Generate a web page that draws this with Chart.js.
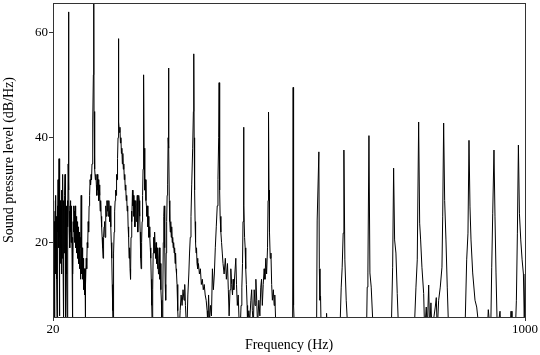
<!DOCTYPE html>
<html>
<head>
<meta charset="utf-8">
<script src="https://cdn.jsdelivr.net/npm/chart.js@4.4.1/dist/chart.umd.min.js"></script>
<style>
  html, body { margin: 0; padding: 0; background: #fff; }
  canvas { display: block; }
</style>
</head>
<body>
<canvas id="c" width="540" height="355"></canvas>
<script>
// Frequency axis values (Hz) of the measured spectrum
const freqHz = [
  20,20.5,21,21.5,22,22.5,23,23.5,24,24.5,
  25,25.5,26,26.5,27,27.5,28,28.5,29,29.5,
  30,30.5,31,31.5,32,32.5,33,33.5,34,34.5,
  35,35.5,36,36.5,37,37.5,38,38.5,39,39.5,
  40,40.5,41,41.5,42,42.5,43,43.5,44,44.5,
  45,45.5,46,46.5,47,47.5,48,48.5,49,49.5,
  50,50.5,51,51.5,52,52.6,53.2,53.8,54.5,55,
  55.5,56,56.5,57,57.5,58,58.5,59,59.5,60,
  60.5,61,61.5,62,62.5,63,63.5,64,64.5,65,
  65.5,66,66.5,67,67.5,68,68.5,69,69.5,70,
  70.5,71,71.5,72,72.5,73,73.5,74,74.5,75,
  75.5,76,76.5,77,77.5,78,78.5,79,79.5,80,
  80.5,81,81.5,82,82.5,83,83.5,84,84.5,85,
  85.5,86,86.5,87,87.5,88,89,90,91,92,
  93,94,95,96,97,98,99,100,101,102,
  103,103.8,104.6,105.2,106,107,108,109,110,111,
  112,113,114,115,116,117,118,119,120,121,
  122,123,124,125,126,127,128,129,130,131,
  132,133,134,135,136,137,138,139,140,141,
  142,143,144,144.7,145.5,146,147,148,149,150,
  151,152,153,154,155,155.4,155.9,156.5,157,158,
  159,160,161,162,163,164,165,166,167,168,
  169,170,171,172,173,174,175,176,177,178,
  179,180,181,182,183,184,185,186,187,188,
  189,190,191,192,193,194,195,196,197,198,
  199,200,201,202,203,204,205,206,207,207.8,
  208.4,209.1,210,211,212,213,214,215,216,217,
  218,219,220,221,222,223,224,225,226,227,
  228,229,230,231,232,233,234,235,236,237,
  238,239,240,241,242,243,244,245,246,247,
  248,249,250,251,252,253,254,255,256,257,
  258,259,259.8,260.6,261.5,262.5,263.5,264.5,265.5,266.5,
  267.5,268.5,269.5,270.5,271.5,272.5,273.5,274.5,275.5,276.5,
  277.5,278.5,279.5,280.5,282,284,286,288,290,292,
  293.5,295,296.5,298,300,302,303.5,305,306.5,308,
  310,311.5,312.3,313.1,314,315,316,317,318,319,
  320,321,322,324,326,328,330,332,334,336,
  338,340,341.5,343,345,347,349,351,353,355,
  357,359,361,362.5,364,364.9,366,367,368.5,370,
  371.5,373,375.3,377.8,380,382.3,384,385.7,387.5,389.2,
  391,392.7,394,395.4,397.5,399.6,401,402.7,404.5,406.4,
  408.9,410.5,412.1,413.5,414.5,415.6,416.5,417.8,419,420.2,
  421.5,423,424,426.6,428.5,430.8,432.5,433.9,436,437.7,
  439.5,441.2,443,444.7,447.4,449.5,451.4,453,454.6,456.5,
  458.4,460,461.8,463.5,465.4,466.5,467.5,468.5,469.5,471,
  472.5,474,475.5,477.5,479.2,480.5,482.7,485,500,517.5,
  518.6,519.5,521,523,545,566,567.3,568.5,572,573,
  574.3,575.5,576.8,587,588,589,605,615.7,618.4,620.4,
  622.5,624,626,628.8,632.3,650,671,672.4,673.8,676,
  678,680.7,684.9,700,722.3,725.2,727.2,729.3,732,734.7,
  737.6,755,770,773.6,776.3,779.2,781.3,783.3,786,789.6,
  791.6,795,797,800,802,804.7,806.8,813.7,815.8,817.8,
  820.7,824.1,827.6,829.1,831.1,833.2,835.9,838.6,841.5,860,
  875.4,878.9,881.6,883.7,885.8,887.9,891.4,896.2,899.7,905.1,
  921.7,923.8,926,928.8,930.9,933,935.6,937.7,939.8,942.5,
  948.1,950.2,969,971,973,980,982.1,984.2,986.3,988.4,
  991.2,994,996.7,998.5,1000
];

// Sound pressure level (dB/Hz) at each frequency above
const levelDb = [
  22,27,15,28,18,24,12,5,19,26,
  14,23,29,17,25,20,13,4,18,27,
  22,32,19,26,21,36,24,18,6,21,
  28,16,25,19,27,14,23,30,17,26,
  21,33,15,4,22,28,18,25,20,29,
  33,19,12,5,21,27,17,24,14,4,
  20,28,23,35,54,64,30,22,26,19,
  27,22,28,24,20,27,23,25,18,21,
  12,4,14,24,27,22,27,25,20,26,
  23,27,21,26,19,24,22,25,18,23,
  20,24,17,22,19,23,16,22,18,21,
  15,20,17,21,13,19,29,16,20,14,
  19,13,18,15,17,11,16,13,15,10,
  14,12,15,9,3,12,17,15,20,19,
  24,22,27,29,32,31,33,32,35,38,
  43,52,72,45,38,34,32,33,31,29,
  33,30,32,28,31,29,26,28,25,23,
  21,19,17,21,23,24,21,25,27,25,
  28,26,28,25,28,26,24,27,23,20,
  17,12,7,3,10,18,22,26,28,30,
  29,33,32,36,40,48,58.9,47,43,41,
  42,39,40,37,38,35,37,34,35,32,
  33,30,31,28,29,26,27,23,21,17,
  19,15,13,21,26,24,30,27,29,25,
  28,23,27,28,24,27,29,22,26,29,
  28,25,22,17,15,20,24,29,34,42,
  52,38,31,30,32,28,27,25,27,23,
  25,21,23,21,19,17,13,8,4,11,
  18,21,18,22,19,17,20,16,19,15,
  18,14,17,19,13,16,11,9,5,3,
  10,20,25,27,19,12,9,18,24,29,
  31,40,53.3,38,28,24,22,24,21,23,
  20,21,19,20,18,19,16,18,15,14,
  12,10,7,4,3,7,10,8,11,9,
  12,8,5,3,10,14,18,21,25,31,
  38,45,56,40,30,24,20,18,19,16,
  17,15,16,14,15,12,13,11,12,10,
  9,7,4,10,5,8,6,15,11,14,
  19,23,27,32,40,50.5,30,25,22,20,
  18,16,14,17,13,16,11,6,11,15,
  12,10,13,11,14,17,12,8,10,5,
  4,8,11.5,16,24,42,27,21,19,15,
  12,8,4,7,5,9,11,7,4,11,
  8,13,9,4,9,6,11.5,13,8,12,
  15,13,17,14,19,28,44.9,30,22,17,
  18,12,9,11,8,10,4,3,3,3,
  49.6,8,4,3,3,3,4,24.3,37.3,15,
  9,9.8,3,3,6.5,3,3,3,11.5,15.3,
  21.8,37.65,16.7,9,3,3,3,11.5,14.2,40.4,
  14.2,11.5,3,3,3,15.3,34.2,20.5,18,10.3,
  3,3,3,11.5,16.7,43,23.7,20.5,15.3,10.3,
  3,7.7,3,11.9,3,8.5,3,7.7,9.5,3,
  9,11.5,15.3,24.9,42.8,28,20.5,11.5,3,3,
  3,16.7,21.8,39.5,26.8,20.5,14.2,9,7.7,3,
  3,7.2,5,3,15.3,25.6,37.65,24.9,14.2,3,
  6.9,3,3,6.9,3,3,9,21.8,38.6,25.6,
  20.5,16.7,14,5,14
];

// Tick labels
const xTickValues = [20, 1000];
const yTickValues = [20, 40, 60];

if (freqHz.length !== levelDb.length) {
  console.error('length mismatch', freqHz.length, levelDb.length);
}

const serif = "'Liberation Serif', 'DejaVu Serif', serif";
const tickFont = { family: serif, size: 13 };
const titleFont = { family: serif, size: 14 };

const framePlugin = {
  id: 'frame',
  afterDatasetsDraw(chart) {
    const { ctx, chartArea: a } = chart;
    ctx.save();
    ctx.strokeStyle = '#333';
    ctx.lineWidth = 1;
    ctx.strokeRect(Math.round(a.left) + 0.5, Math.round(a.top) + 0.5,
                   Math.round(a.right) - Math.round(a.left), Math.round(a.bottom) - Math.round(a.top));
    ctx.restore();
  }
};

new Chart(document.getElementById('c'), {
  type: 'line',
  data: {
    datasets: [{
      data: freqHz.map((f, i) => ({ x: f, y: levelDb[i] })),
      borderColor: '#000',
      borderWidth: 1,
      pointRadius: 0,
      tension: 0,
      fill: false
    }]
  },
  options: {
    responsive: false,
    animation: false,
    devicePixelRatio: 1,
    layout: { padding: { top: 3, right: 15, bottom: 0, left: 0 } },
    plugins: { legend: { display: false }, tooltip: { enabled: false } },
    scales: {
      x: {
        type: 'linear',
        min: 20,
        max: 1000,
        afterBuildTicks: s => { s.ticks = xTickValues.map(v => ({ value: v })); },
        ticks: { font: tickFont, color: '#000', padding: 1, maxRotation: 0, autoSkip: false,
                 callback: v => String(v) },
        grid: { display: true, drawOnChartArea: false, drawTicks: true, tickLength: 4, tickColor: '#333', color: '#333' },
        border: { display: false },
        title: { display: true, text: 'Frequency (Hz)', font: titleFont, color: '#000', padding: { top: 0, bottom: 1 } },
        afterFit: s => { s.height = 38; }
      },
      y: {
        type: 'linear',
        min: 5.8,
        max: 65.7,
        afterBuildTicks: s => { s.ticks = yTickValues.map(v => ({ value: v })); },
        ticks: { font: tickFont, color: '#000', padding: 1, callback: v => String(v) },
        grid: { display: true, drawOnChartArea: false, drawTicks: true, tickLength: 4, tickColor: '#333', color: '#333' },
        border: { display: false },
        title: { display: true, text: 'Sound pressure level (dB/Hz)', font: titleFont, color: '#000', padding: { top: 1, bottom: 0 } },
        afterFit: s => { s.width = 53; s.paddingTop = 0; s.paddingBottom = 0; }
      }
    }
  },
  plugins: [framePlugin]
});
</script>
</body>
</html>
